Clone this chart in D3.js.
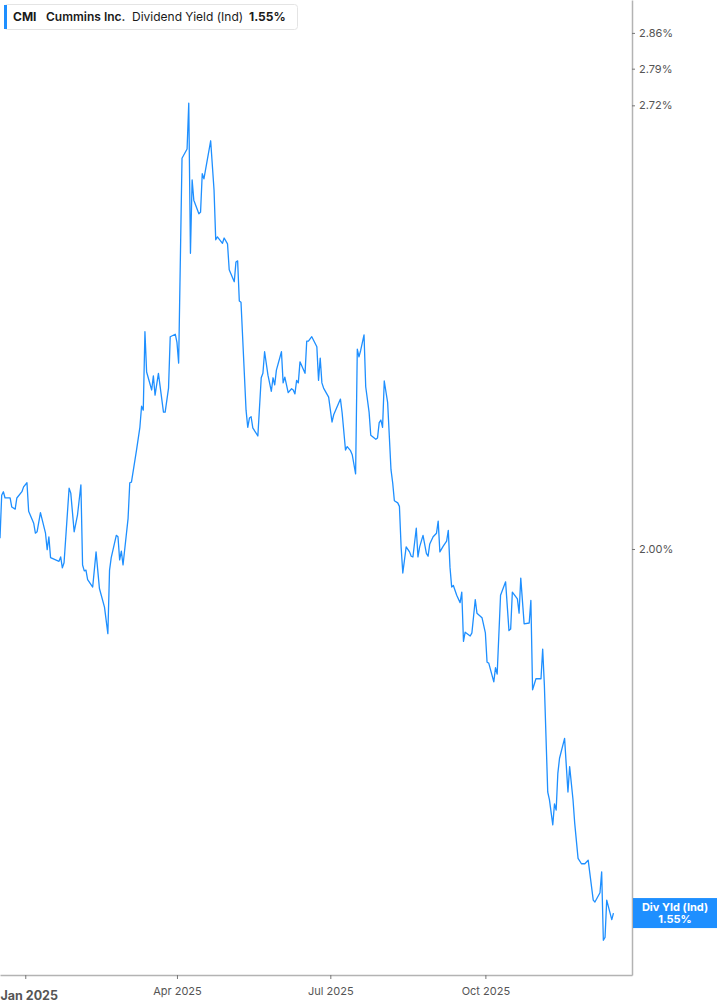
<!DOCTYPE html>
<html>
<head>
<meta charset="utf-8">
<script src="https://cdn.jsdelivr.net/npm/d3@7"></script>
<style>
  html, body { margin: 0; padding: 0; background: #fff; }
  body { font-family: Inter, "Noto Sans", sans-serif; }
  svg { display: block; }
</style>
</head>
<body>
<svg width="717" height="1005"></svg>
<script>
// CMI dividend yield (indicated)
var dates = [
  '2024-12-17','2024-12-18','2024-12-19','2024-12-20','2024-12-23','2024-12-24','2024-12-26','2024-12-27','2024-12-30','2024-12-31',
  '2025-01-02','2025-01-03','2025-01-06','2025-01-07','2025-01-08','2025-01-10','2025-01-13','2025-01-14','2025-01-15','2025-01-16',
  '2025-01-21','2025-01-22','2025-01-23','2025-01-24','2025-01-27','2025-01-28','2025-01-30','2025-02-01','2025-02-03','2025-02-04',
  '2025-02-05','2025-02-06','2025-02-07','2025-02-10','2025-02-12','2025-02-14','2025-02-17','2025-02-19','2025-02-20','2025-02-21',
  '2025-02-24','2025-02-25','2025-02-26','2025-02-27','2025-02-28','2025-03-03','2025-03-04','2025-03-05','2025-03-08','2025-03-10',
  '2025-03-11','2025-03-12','2025-03-13','2025-03-14','2025-03-17','2025-03-18','2025-03-19','2025-03-21','2025-03-24','2025-03-25',
  '2025-03-27','2025-03-28','2025-03-31','2025-04-01','2025-04-02','2025-04-04','2025-04-07','2025-04-08','2025-04-09','2025-04-10',
  '2025-04-11','2025-04-14','2025-04-15','2025-04-16','2025-04-17','2025-04-21','2025-04-23','2025-04-24','2025-04-25','2025-04-28',
  '2025-04-29','2025-05-01','2025-05-02','2025-05-05','2025-05-06','2025-05-07','2025-05-08','2025-05-09','2025-05-12','2025-05-13',
  '2025-05-14','2025-05-15','2025-05-16','2025-05-19','2025-05-21','2025-05-22','2025-05-23','2025-05-25','2025-05-27','2025-05-28',
  '2025-05-29','2025-05-30','2025-06-02','2025-06-03','2025-06-04','2025-06-06','2025-06-08','2025-06-09','2025-06-10','2025-06-11',
  '2025-06-12','2025-06-13','2025-06-16','2025-06-17','2025-06-18','2025-06-20','2025-06-23','2025-06-24','2025-06-25','2025-06-26',
  '2025-06-27','2025-06-30','2025-07-02','2025-07-03','2025-07-07','2025-07-08','2025-07-10','2025-07-11','2025-07-13','2025-07-14',
  '2025-07-16','2025-07-17','2025-07-18','2025-07-19','2025-07-21','2025-07-22','2025-07-24','2025-07-25','2025-07-28','2025-07-29',
  '2025-07-30','2025-07-31','2025-08-01','2025-08-02','2025-08-04','2025-08-06','2025-08-07','2025-08-08','2025-08-10','2025-08-11',
  '2025-08-12','2025-08-13','2025-08-15','2025-08-17','2025-08-18','2025-08-19','2025-08-21','2025-08-22','2025-08-23','2025-08-25',
  '2025-08-27','2025-08-28','2025-08-29','2025-08-31','2025-09-02','2025-09-03','2025-09-04','2025-09-06','2025-09-08','2025-09-09',
  '2025-09-10','2025-09-11','2025-09-12','2025-09-14','2025-09-16','2025-09-17','2025-09-18','2025-09-19','2025-09-22','2025-09-23',
  '2025-09-25','2025-09-26','2025-09-29','2025-10-01','2025-10-02','2025-10-03','2025-10-06','2025-10-07','2025-10-08','2025-10-10',
  '2025-10-13','2025-10-15','2025-10-16','2025-10-17','2025-10-20','2025-10-21','2025-10-22','2025-10-24','2025-10-27','2025-10-28',
  '2025-10-29','2025-10-31','2025-11-03','2025-11-04','2025-11-05','2025-11-07','2025-11-08','2025-11-10','2025-11-11','2025-11-12',
  '2025-11-13','2025-11-14','2025-11-17','2025-11-19','2025-11-20','2025-11-22','2025-11-23','2025-11-25','2025-11-27','2025-11-29',
  '2025-12-01','2025-12-04','2025-12-05','2025-12-08','2025-12-09','2025-12-10','2025-12-11','2025-12-12','2025-12-15','2025-12-16'
]

var yields = [
  2.015,2.076,2.081,2.072,2.072,2.059,2.056,2.072,2.081,2.088,
  2.094,2.053,2.036,2.022,2.024,2.051,2.022,1.999,2.017,1.988,
  1.983,1.989,1.974,1.981,2.086,2.079,2.024,2.048,2.091,1.978,
  1.970,1.971,1.958,1.948,1.996,1.946,1.921,1.886,1.971,1.988,
  2.019,2.017,1.985,1.997,1.978,2.043,2.094,2.095,2.142,2.176,
  2.208,2.202,2.325,2.261,2.233,2.255,2.225,2.259,2.199,2.199,
  2.236,2.317,2.321,2.308,2.275,2.622,2.639,2.724,2.455,2.583,
  2.547,2.523,2.526,2.594,2.585,2.654,2.565,2.478,2.483,2.472,
  2.481,2.471,2.427,2.407,2.440,2.442,2.375,2.373,2.202,2.176,
  2.190,2.192,2.175,2.163,2.252,2.259,2.293,2.256,2.231,2.252,
  2.241,2.264,2.293,2.244,2.253,2.229,2.235,2.233,2.227,2.248,
  2.244,2.277,2.259,2.310,2.310,2.317,2.301,2.248,2.283,2.244,
  2.236,2.222,2.184,2.195,2.219,2.198,2.142,2.147,2.141,2.135,
  2.107,2.297,2.285,2.295,2.320,2.238,2.199,2.164,2.158,2.160,
  2.183,2.187,2.176,2.247,2.214,2.113,2.094,2.068,2.065,2.060,
  2.003,1.967,2.003,1.996,1.990,1.989,2.029,1.989,2.003,2.019,
  1.994,1.990,2.007,2.017,2.022,2.039,1.996,2.004,2.011,2.026,
  1.975,1.948,1.950,1.937,1.927,1.941,1.876,1.888,1.883,1.887,
  1.931,1.913,1.907,1.887,1.849,1.848,1.824,1.842,1.834,1.937,
  1.955,1.890,1.892,1.941,1.932,1.913,1.960,1.899,1.900,1.930,
  1.814,1.828,1.828,1.866,1.820,1.690,1.681,1.652,1.676,1.669,
  1.712,1.730,1.754,1.690,1.720,1.681,1.654,1.614,1.608,1.608,
  1.612,1.568,1.566,1.576,1.599,1.525,1.528,1.568,1.547,1.554
]

var yTicks = [2.00, 2.72, 2.79, 2.86]
var xTicks = ['2025-01-01', '2025-04-01', '2025-07-01', '2025-10-01']
var xDomain = ['2024-12-17', '2025-12-27']
var yDomain = [1.4887, 2.926]

var lastValue = yields[yields.length - 1]

var blue = '#1e8fff',
	plotW = 632,
	plotH = 975

var parse = d3.timeParse('%Y-%m-%d'),
	data = dates.map(function(d, i) { return { date: parse(d), value: yields[i] } })

var svg = d3.select('svg')

var x = d3.scaleTime().domain(xDomain.map(parse)).range([0, plotW]),
	y = d3.scaleLog().domain(yDomain).range([plotH, 0])

// axes
var yAxis = svg.append('g')
	.attr('transform', 'translate(' + plotW + ',0)')
	.call(d3.axisRight(y)
		.tickValues(yTicks)
		.tickSize(3)
		.tickSizeOuter(0)
		.tickPadding(4)
		.tickFormat(function(d) { return d.toFixed(2) + '%' }))

var xAxis = svg.append('g')
	.attr('transform', 'translate(0,' + plotH + ')')
	.call(d3.axisBottom(x)
		.tickValues(xTicks.map(parse))
		.tickSize(4)
		.tickSizeOuter(0)
		.tickPadding(8)
		.tickFormat(d3.timeFormat('%b %Y')))

svg.selectAll('.domain').attr('stroke', '#b3b3b3').attr('stroke-width', 1.5)
svg.selectAll('.tick line').attr('stroke', '#777')
svg.selectAll('.tick text')
	.attr('font-family', 'Inter, sans-serif')
	.attr('font-size', 11)
	.attr('fill', '#555')

// the year label sits at the left edge, bold
xAxis.selectAll('.tick text')
	.filter(function(d) { return d.getMonth() === 0 })
	.attr('font-size', 12.5)
	.attr('font-weight', 'bold')
	.attr('text-anchor', 'start')
	.attr('x', function(d) { return -x(d) })
	.attr('dy', '1.05em')

// the line
svg.append('path')
	.datum(data)
	.attr('fill', 'none')
	.attr('stroke', blue)
	.attr('stroke-width', 1.3)
	.attr('stroke-linejoin', 'round')
	.attr('d', d3.line()
		.x(function(d) { return x(d.date) })
		.y(function(d) { return y(d.value) }))

// last value label on the right axis
var ly = y(lastValue)
var tag = svg.append('g').attr('transform', 'translate(' + (plotW + 1) + ',' + ly + ')')
tag.append('rect')
	.attr('x', 0).attr('y', -15)
	.attr('width', 84).attr('height', 30)
	.attr('fill', blue)
tag.append('text')
	.attr('x', 42).attr('y', -2)
	.attr('text-anchor', 'middle')
	.attr('font-family', 'Inter, sans-serif')
	.attr('font-size', 11)
	.attr('font-weight', 'bold')
	.attr('fill', '#fff')
	.text('Div Yld (Ind)')
tag.append('text')
	.attr('x', 42).attr('y', 10)
	.attr('text-anchor', 'middle')
	.attr('font-family', 'Inter, sans-serif')
	.attr('font-size', 11)
	.attr('font-weight', 'bold')
	.attr('fill', '#fff')
	.text(lastValue.toFixed(2) + '%')

// legend box
var legend = svg.append('g')
legend.append('rect')
	.attr('x', 4.5).attr('y', 4.5)
	.attr('width', 293).attr('height', 25)
	.attr('rx', 3)
	.attr('fill', '#fff')
	.attr('stroke', '#e4e4e4')
legend.append('rect')
	.attr('x', 4).attr('y', 5)
	.attr('width', 3).attr('height', 24)
	.attr('fill', blue)

var legendItems = [
	{ text: 'CMI', x: 13, weight: 700 },
	{ text: 'Cummins Inc.', x: 46, weight: 600 },
	{ text: 'Dividend Yield (Ind)', x: 132, weight: 400 },
	{ text: lastValue.toFixed(2) + '%', x: 249, weight: 700 }
]
legend.selectAll('text.item').data(legendItems)
	.enter().append('text')
	.attr('class', 'item')
	.attr('x', function(d) { return d.x })
	.attr('y', 21)
	.attr('font-family', 'Inter, sans-serif')
	.attr('font-size', 12)
	.attr('font-weight', function(d) { return d.weight })
	.attr('fill', '#1a1a1a')
	.text(function(d) { return d.text })
</script>
</body>
</html>
